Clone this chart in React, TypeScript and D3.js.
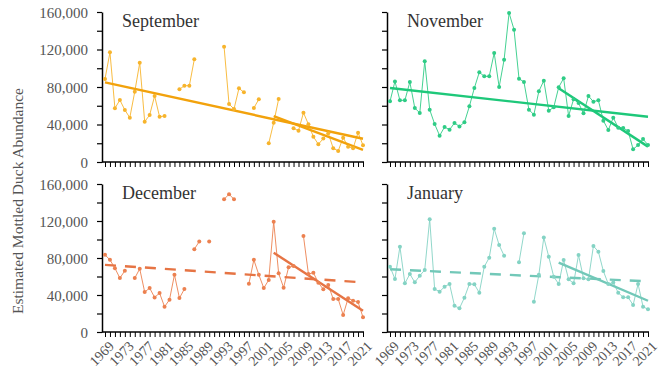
import { useRef, useEffect } from 'react';
import * as d3 from 'd3';

// Survey years shared by all four panels
const years = d3.range(1969, 2022);

// Estimated abundance per month (null = no survey that year)
const september = [
  88500, 117000, 57300, 66100, 55500, 47300, 75000, 105900, 43000, 50100, 70400, 48300, 49000,
  null, null, 77500, 81400, 81400, 109500, null, null, null, null, null,
  123000, 61900, 56500, 78600, 74300, null, 57600, 66900, null, 19900, 41900, 67200, null, null,
  36000, 33400, 52600, 40200, 27000, 18900, 25000, 30600, 14600, 11800, 26000, 16400, 14600, 31300, 17800,
];

const november = [
  64700, 86000, 65800, 65800, 85300, 57600, 52300, 107400, 55800, 40500,
  28100, 37300, 34500, 41600, 38000, 42300, 59400, 78900, 95700, 91400,
  91400, 116300, 80000, 109200, 159000, 141200, 88900, 85300, 55800, 50500,
  75400, 86800, 54800, 58300, 79700, 89300, 49100, 66900, 62900, 51900,
  70400, 64300, 65800, 44100, 34100, 47300, 36600, 36300, 33100, 13500,
  18100, 24500, 18100,
];

const december = [
  83400, 78000, 69000, 58300, 66200, null, 58300, 68300, 43200, 47500, 37400, 42100, 27300,
  34900, 61900, 36700, 46400, null, 89500, 97800, null, 97800, null, null,
  143500, 148900, 143500, null, null, 52100, 78000, 61900, 47500, 56200, 119200, 63400, 47900,
  69900, 71300, null, 103800, 62700, 64100, 53300, 46100, 50800, 35700, 35700, 18400, 36400,
  33900, 32400, 15900,
];

const january = [
  70600, 57300, 92200, 52600, 62700, 53700, 60900, 67000, 121900, 46500, 43600, 49000, 51900,
  28400, 25600, 37100, 51900, 51500, 42500, 70600, 80300, 111500, 94000, 82500, null, null,
  75300, 106800, null, 32800, 61900, 102100, 81400, 59800, 51900, 77800, 57000, 52600, 83200,
  58000, 57000, 93000, 86800, 65900, 51900, 53500, 42500, 37500, 37500, 29200, 51900, 27400, 24500,
];

// Fitted trend lines: [startYear, startValue, endYear, endValue, dashed]
const septemberTrends: [number, number, number, number, boolean][] = [
  [1969, 85000, 2021, 24800, false],
  [2003, 49000, 2021, 13000, false],
];
const novemberTrends: [number, number, number, number, boolean][] = [
  [1969, 78900, 2021, 48300, false],
  [2003, 78600, 2021, 16400, false],
];
const decemberTrends: [number, number, number, number, boolean][] = [
  [1969, 72600, 2021, 53600, true],
  [2003, 85700, 2021, 23000, false],
];
const januaryTrends: [number, number, number, number, boolean][] = [
  [1969, 67800, 2021, 54700, true],
  [2003, 74900, 2021, 33800, false],
];

const yTicks = d3.range(0, 160001, 20000);
const yearLabels = d3.range(1969, 2022, 4);

interface Panel {
  name: string;
  values: (number | null)[];
  trends: [number, number, number, number, boolean][];
  col: number;
  row: number;
  pointColor: string;
  trendColor: string;
}

const panels: Panel[] = [
  { name: 'September', values: september, trends: septemberTrends, col: 0, row: 0, pointColor: '#f7b42c', trendColor: '#f2a20c' },
  { name: 'November', values: november, trends: novemberTrends, col: 1, row: 0, pointColor: '#2fcc86', trendColor: '#1ec87a' },
  { name: 'December', values: december, trends: decemberTrends, col: 0, row: 1, pointColor: '#ec8150', trendColor: '#e67444' },
  { name: 'January', values: january, trends: januaryTrends, col: 1, row: 1, pointColor: '#84d3c4', trendColor: '#72c8b8' },
];

const FONT = '"Liberation Serif", "DejaVu Serif", serif';

export default function App() {
  const svgRef = useRef<SVGSVGElement>(null);

  useEffect(() => {
    if (!svgRef.current) return;
    const svg = d3.select(svgRef.current);
    svg.selectAll('*').remove();

    // Layout of the 2x2 grid
    const axisX = [102, 387];
    const xRanges = [[105, 363], [390, 648]];
    const yRanges = [[162, 12], [332, 184]];

    panels.forEach(p => {
      const x = d3.scaleLinear().domain([1969, 2021]).range(xRanges[p.col]);
      const y = d3.scaleLinear().domain([0, 160000]).range(yRanges[p.row]);
      const g = svg.append('g');

      // y axis
      const yAxis = d3.axisLeft(y)
        .tickValues(yTicks)
        .tickSize(5)
        .tickSizeOuter(0)
        .tickFormat(d => (p.col === 0 && (d as number) % 40000 === 0 ? d3.format(',')(d as number) : ''));
      const ya = g.append('g')
        .attr('transform', `translate(${axisX[p.col]},0)`)
        .call(yAxis)
        .attr('font-family', null)
        .attr('font-size', null);
      ya.select('.domain').attr('stroke', '#000').attr('stroke-width', 1.5);
      ya.selectAll('.tick line').attr('stroke', '#000').attr('stroke-width', 1.2);
      ya.selectAll('.tick text')
        .style('font-family', FONT)
        .style('font-size', '15px')
        .attr('fill', '#555')
        .attr('x', -14)
        .attr('dy', '0.35em');

      // x axis: a tick every year, labels every 4 years on the bottom row
      const xAxis = d3.axisBottom(x)
        .tickValues(years)
        .tickSize(5)
        .tickSizeOuter(0)
        .tickFormat(() => '');
      const xa = g.append('g')
        .attr('transform', `translate(0,${yRanges[p.row][0]})`)
        .call(xAxis);
      xa.select('.domain').remove();
      xa.selectAll('.tick line').attr('stroke', '#000').attr('stroke-width', 1);
      xa.append('line')
        .attr('x1', axisX[p.col])
        .attr('x2', x(2021) + 1)
        .attr('stroke', '#000')
        .attr('stroke-width', 1.5);

      if (p.row === 1) {
        g.append('g')
          .selectAll('text')
          .data(yearLabels)
          .enter().append('text')
          .attr('transform', d => `translate(${x(d) + 3},${yRanges[p.row][0] + 8}) rotate(-45)`)
          .attr('text-anchor', 'end')
          .attr('dy', '0.7em')
          .style('font-family', FONT)
          .style('font-size', '14px')
          .attr('fill', '#555')
          .text(d => d);
      }

      // panel title
      g.append('text')
        .attr('x', axisX[p.col] + 20)
        .attr('y', yRanges[p.row][1] + 15)
        .style('font-family', FONT)
        .style('font-size', '18px')
        .attr('fill', '#333')
        .text(p.name);

      const pts = years.map((yr, i) => ({ year: yr, value: p.values[i] }));

      // thin series line, broken where a year is missing
      const line = d3.line<{ year: number; value: number | null }>()
        .defined(d => d.value !== null)
        .x(d => x(d.year))
        .y(d => y(d.value as number));
      g.append('path')
        .datum(pts)
        .attr('d', line)
        .attr('fill', 'none')
        .attr('stroke', p.pointColor)
        .attr('stroke-width', 0.9);

      // trend lines
      p.trends.forEach(t => {
        g.append('line')
          .attr('x1', x(t[0]))
          .attr('y1', y(t[1]))
          .attr('x2', x(t[2]))
          .attr('y2', y(t[3]))
          .attr('stroke', p.trendColor)
          .attr('stroke-width', 2.4)
          .attr('stroke-dasharray', t[4] ? '11,9' : null);
      });

      g.append('g')
        .selectAll('circle')
        .data(pts.filter(d => d.value !== null))
        .enter().append('circle')
        .attr('cx', d => x(d.year))
        .attr('cy', d => y(d.value as number))
        .attr('r', 2)
        .attr('fill', p.pointColor);
    });

    // shared y label
    svg.append('text')
      .attr('transform', 'translate(23,201) rotate(-90)')
      .attr('text-anchor', 'middle')
      .style('font-family', FONT)
      .style('font-size', '15.5px')
      .attr('fill', '#555')
      .text('Estimated Mottled Duck Abundance');
  }, []);

  return (
    <svg
      ref={svgRef}
      width={659}
      height={373}
      style={{ position: 'absolute', left: 0, top: 0, background: '#fff' }}
    />
  );
}
